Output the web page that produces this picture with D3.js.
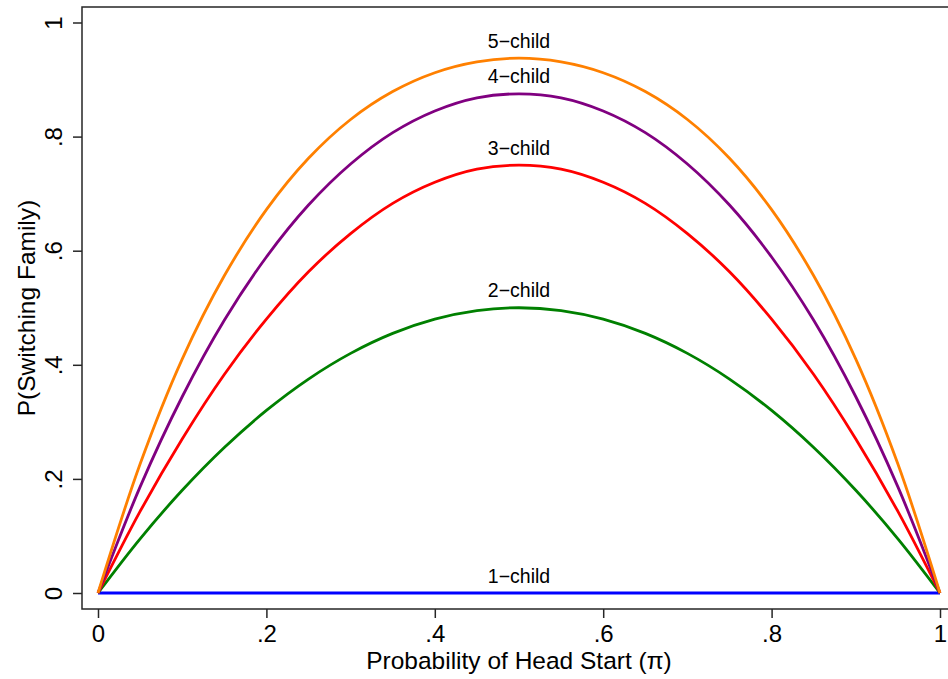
<!DOCTYPE html>
<html>
<head>
<meta charset="utf-8">
<script src="https://cdn.jsdelivr.net/npm/d3@7"></script>
<style>
  body { margin: 0; background: #fff; }
  text { font-family: "Liberation Sans", Arial, sans-serif; fill: #000; }
</style>
</head>
<body>
<div id="chart"></div>
<script>
// x values where the curves were read (probability of head start)
var piValues = [0, .05, .1, .15, .2, .25, .3, .35, .4, .45, .5,
                .55, .6, .65, .7, .75, .8, .85, .9, .95, 1];

// P(switching family), one list per family size
var child1 = [0, 0, 0, 0, 0, 0, 0, 0, 0, 0, 0,
              0, 0, 0, 0, 0, 0, 0, 0, 0, 0];
var child2 = [0, .095, .18, .255, .32, .375, .42, .455, .48, .495, .5,
              .495, .48, .455, .42, .375, .32, .255, .18, .095, 0];
var child3 = [0, .143, .27, .383, .48, .563, .63, .683, .72, .743, .75,
              .743, .72, .683, .63, .563, .48, .383, .27, .143, 0];
var child4 = [0, .186, .344, .478, .589, .68, .752, .807, .845, .868, .875,
              .868, .845, .807, .752, .68, .589, .478, .344, .186, 0];
var child5 = [0, .226, .41, .556, .672, .762, .83, .879, .912, .931, .9375,
              .931, .912, .879, .83, .762, .672, .556, .41, .226, 0];

var seriesNames = ["1\u2212child", "2\u2212child", "3\u2212child", "4\u2212child", "5\u2212child"];
var xTicks = [0, .2, .4, .6, .8, 1];
var xTickLabels = ["0", ".2", ".4", ".6", ".8", "1"];
var yTicks = [0, .2, .4, .6, .8, 1];
var yTickLabels = ["0", ".2", ".4", ".6", ".8", "1"];

var seriesValues = [child1, child2, child3, child4, child5];
var colors = ["#0000ff", "#008000", "#ff0000", "#800080", "#ff8000"];

var svgWidth = 948;
var svgHeight = 679;

var svg = d3.select("#chart")
  .append("svg")
  .attr("width", svgWidth)
  .attr("height", svgHeight);

var xScale = d3.scaleLinear().domain([0, 1]).range([98, 940]);
var yScale = d3.scaleLinear().domain([0, 1]).range([593, 22.5]);

// plot region frame (right edge runs off the image)
svg.append("rect")
  .attr("x", 82)
  .attr("y", 7)
  .attr("width", 900)
  .attr("height", 602)
  .attr("fill", "none")
  .attr("stroke", "#262626")
  .attr("stroke-width", 1.5);

// axes
var bottomAxis = d3.axisBottom(xScale)
  .tickValues(xTicks)
  .tickSize(9)
  .tickPadding(7)
  .tickFormat((d, i) => xTickLabels[i]);

var leftAxis = d3.axisLeft(yScale)
  .tickValues(yTicks)
  .tickSize(9)
  .tickFormat((d, i) => yTickLabels[i]);

var xAxisG = svg.append("g")
  .attr("transform", "translate(0, 609)")
  .call(bottomAxis);
xAxisG.select(".domain").remove();
xAxisG.selectAll("line").attr("stroke", "#262626").attr("stroke-width", 1.5);
xAxisG.selectAll("text")
  .attr("font-size", "24px")
  .style("font-family", "Liberation Sans, Arial, sans-serif");

var yAxisG = svg.append("g")
  .attr("transform", "translate(82, 0)")
  .call(leftAxis);
yAxisG.select(".domain").remove();
yAxisG.selectAll("line").attr("stroke", "#262626").attr("stroke-width", 1.5);
yAxisG.selectAll("text")
  .attr("font-size", "24px")
  .attr("x", null)
  .attr("dy", null)
  .attr("text-anchor", "middle")
  .attr("transform", "translate(-20, 0) rotate(-90)")
  .attr("y", 0)
  .style("font-family", "Liberation Sans, Arial, sans-serif");

// curves
var line = d3.line()
  .x((d, i) => xScale(piValues[i]))
  .y(d => yScale(d))
  .curve(d3.curveCatmullRom);

svg.append("g")
  .selectAll("path")
  .data(seriesValues)
  .enter()
  .append("path")
  .attr("d", d => line(d))
  .attr("fill", "none")
  .attr("stroke", (d, i) => colors[i])
  .attr("stroke-width", 2.8);

// labels above the peak of each curve
svg.append("g")
  .selectAll("text")
  .data(seriesValues)
  .enter()
  .append("text")
  .attr("x", xScale(.5))
  .attr("y", d => yScale(d[10]) - 10.5)
  .attr("text-anchor", "middle")
  .attr("font-size", "19.5px")
  .text((d, i) => seriesNames[i]);

// axis titles
svg.append("text")
  .attr("x", xScale(.5))
  .attr("y", 669)
  .attr("text-anchor", "middle")
  .attr("font-size", "24.5px")
  .text("Probability of Head Start (\u03c0)");

svg.append("text")
  .attr("transform", `translate(35, ${(7 + 609) / 2}) rotate(-90)`)
  .attr("text-anchor", "middle")
  .attr("font-size", "24.5px")
  .text("P(Switching Family)");
</script>
</body>
</html>
